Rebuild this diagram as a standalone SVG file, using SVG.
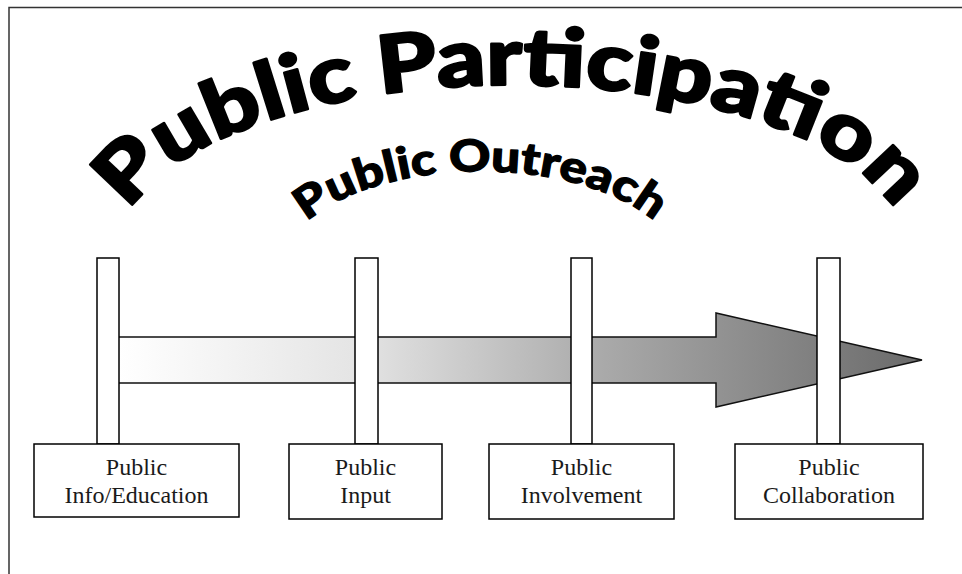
<svg xmlns="http://www.w3.org/2000/svg" width="962" height="574" viewBox="0 0 962 574">
<style>
.wa{font-family:"Lato","Inter","Roboto","DejaVu Sans",sans-serif;font-weight:900;fill:#000;stroke:#000;stroke-linejoin:round}
.post{fill:#fff;stroke:#000;stroke-width:1.5}
.box{fill:#fff;stroke:#000;stroke-width:1.5}
.lbl{font-family:"Liberation Serif","Times New Roman",serif;font-size:24px;fill:#1a1a1a;text-anchor:middle}
</style>
<defs>
<linearGradient id="grad" gradientUnits="userSpaceOnUse" x1="119" y1="0" x2="922" y2="0">
<stop offset="0" stop-color="#ffffff"/>
<stop offset="0.3" stop-color="#e4e4e4"/>
<stop offset="0.6" stop-color="#aaaaaa"/>
<stop offset="1" stop-color="#6a6a6a"/>
</linearGradient>
<path id="arc1" d="M 130 212 A 393 165 0 0 1 895 212"/>
<path id="arc2" d="M 307 222 A 200 100 0 0 1 655 222"/>
</defs>
<rect x="9" y="7.5" width="980" height="600" fill="#fff" stroke="#333" stroke-width="1.5"/>
<g id="title">
<text class="wa" font-size="80" stroke-width="2.5"><textPath href="#arc1" textLength="832" lengthAdjust="spacingAndGlyphs">Public Participation</textPath></text>
</g>
<g id="subtitle">
<text class="wa" font-size="44" stroke-width="1.2"><textPath href="#arc2" textLength="368" lengthAdjust="spacingAndGlyphs">Public Outreach</textPath></text>
</g>
<g id="connectors">
<path id="arrow" d="M 105 337 L 716 337 L 716 313 L 922 360 L 716 407 L 716 383 L 105 383 Z" fill="url(#grad)" stroke="#111" stroke-width="1.5" stroke-linejoin="miter"/>
</g>
<g id="node1">
<rect class="post" x="97" y="258" width="22" height="186"/>
<rect class="box" x="34" y="444" width="205" height="73"/>
<text class="lbl" x="136.5" y="475">Public</text>
<text class="lbl" x="136.5" y="503">Info/Education</text>
</g>
<g id="node2">
<rect class="post" x="355" y="258" width="23" height="186"/>
<rect class="box" x="289" y="444" width="153" height="75"/>
<text class="lbl" x="365.5" y="475">Public</text>
<text class="lbl" x="365.5" y="503">Input</text>
</g>
<g id="node3">
<rect class="post" x="571" y="258" width="21" height="186"/>
<rect class="box" x="489" y="444" width="185" height="75"/>
<text class="lbl" x="581.5" y="475">Public</text>
<text class="lbl" x="581.5" y="503">Involvement</text>
</g>
<g id="node4">
<rect class="post" x="817" y="258" width="23" height="186"/>
<rect class="box" x="735" y="444" width="188" height="75"/>
<text class="lbl" x="829" y="475">Public</text>
<text class="lbl" x="829" y="503">Collaboration</text>
</g>
</svg>
